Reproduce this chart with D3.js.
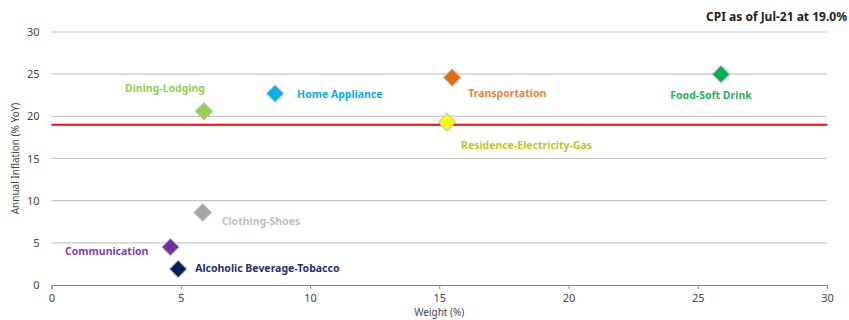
<!DOCTYPE html>
<html><head><meta charset="utf-8">
<script src="https://cdn.jsdelivr.net/npm/d3@7"></script>
<style>
body{margin:0;background:#fff;}
text{font-family:"Noto Sans","Open Sans",sans-serif;}
</style></head>
<body><svg id="c" width="849" height="320"></svg>
<script>
const categories = ["Dining-Lodging","Home Appliance","Transportation","Residence-Electricity-Gas","Food-Soft Drink","Clothing-Shoes","Communication","Alcoholic Beverage-Tobacco"];
const weights   = [5.9, 8.65, 15.5, 15.3, 25.9, 5.85, 4.6, 4.9];
const inflation = [20.6, 22.7, 24.6, 19.3, 25.0, 8.6, 4.5, 1.9];
const markerColors = ["#92d050","#00b0f0","#e46c0a","#ffff00","#00b050","#a6a6a6","#7030a0","#002060"];
const labelColors  = ["#92d050","#00b0f0","#e8833a","#c3c32a","#1fb25a","#bfbfbf","#7f3fae","#1f3070"];
const cpi = 19.0;
const xTicks = [0,5,10,15,20,25,30];
const yTicks = [0,5,10,15,20,25,30];
const title = "CPI as of Jul-21 at 19.0%";

// label layout (offset from marker, anchor)
const labelLayout = [[-39,-19,"middle"],[22,4,"start"],[16,19,"start"],[14,27,"start"],[-10,25,"middle"],[19,13,"start"],[-22,8,"end"],[17,3,"start"]];

const svg = d3.select("#c");
const m = {l:51.5, r:22, t:32, b:35};
const W = 849, H = 320;
const x = d3.scaleLinear().domain([0,30]).range([m.l, W-m.r]);
const y = d3.scaleLinear().domain([0,30]).range([H-m.b, m.t]);

svg.append("g").selectAll("line").data(yTicks.filter(d=>d>0)).join("line")
  .attr("x1",x(0)).attr("x2",x(30)).attr("y1",d=>y(d)).attr("y2",d=>y(d))
  .attr("stroke","#c8c8c8").attr("stroke-width",1.2);

const ya = svg.append("g").attr("transform",`translate(${x(0)},0)`)
  .call(d3.axisLeft(y).tickValues(yTicks).tickSize(0).tickPadding(12));
ya.select(".domain").remove();
ya.selectAll("text").attr("font-size",11).attr("fill","#444").attr("font-family","'Noto Sans',sans-serif");

const xa = svg.append("g").attr("transform",`translate(0,${y(0)})`)
  .call(d3.axisBottom(x).tickValues(xTicks).tickSize(4).tickPadding(5));
xa.select(".domain").attr("stroke","#8a8a8a").attr("stroke-width",1.2);
xa.selectAll(".tick line").attr("stroke","#8a8a8a");
xa.selectAll("text").attr("font-size",11).attr("fill","#444").attr("font-family","'Noto Sans',sans-serif");

svg.append("line").attr("x1",x(0)).attr("x2",x(30)).attr("y1",y(cpi)).attr("y2",y(cpi))
  .attr("stroke","#ff0000").attr("stroke-width",2);

svg.append("text").attr("x",(x(0)+x(30))/2).attr("y",316).attr("text-anchor","middle")
  .attr("font-size",10).attr("fill","#444").text("Weight (%)");
svg.append("text").attr("transform",`translate(19,${(y(0)+y(30))/2}) rotate(-90)`)
  .attr("text-anchor","middle").attr("font-size",10).attr("fill","#444").text("Annual Inflation (% YoY)");

svg.append("text").attr("x",847).attr("y",21).attr("text-anchor","end")
  .attr("font-size",12).attr("font-weight","bold").attr("fill","#222").text(title);

const data = categories.map((c,i)=>({c, w:weights[i], v:inflation[i], mc:markerColors[i], lc:labelColors[i], L:labelLayout[i]}));
const sym = d3.symbol().type(d3.symbolSquare).size(150);
svg.append("g").selectAll("path").data(data).join("path")
  .attr("d",sym)
  .attr("transform",d=>`translate(${x(d.w)},${y(d.v)}) rotate(45)`)
  .attr("fill",d=>d.mc).attr("stroke","#bdbdbd").attr("stroke-width",1);

svg.append("g").selectAll("text").data(data).join("text")
  .attr("x",d=>x(d.w)+d.L[0]).attr("y",d=>y(d.v)+d.L[1])
  .attr("text-anchor",d=>d.L[2])
  .attr("font-size",10.5).attr("font-weight","bold").attr("fill",d=>d.lc)
  .text(d=>d.c);
</script></body></html>
